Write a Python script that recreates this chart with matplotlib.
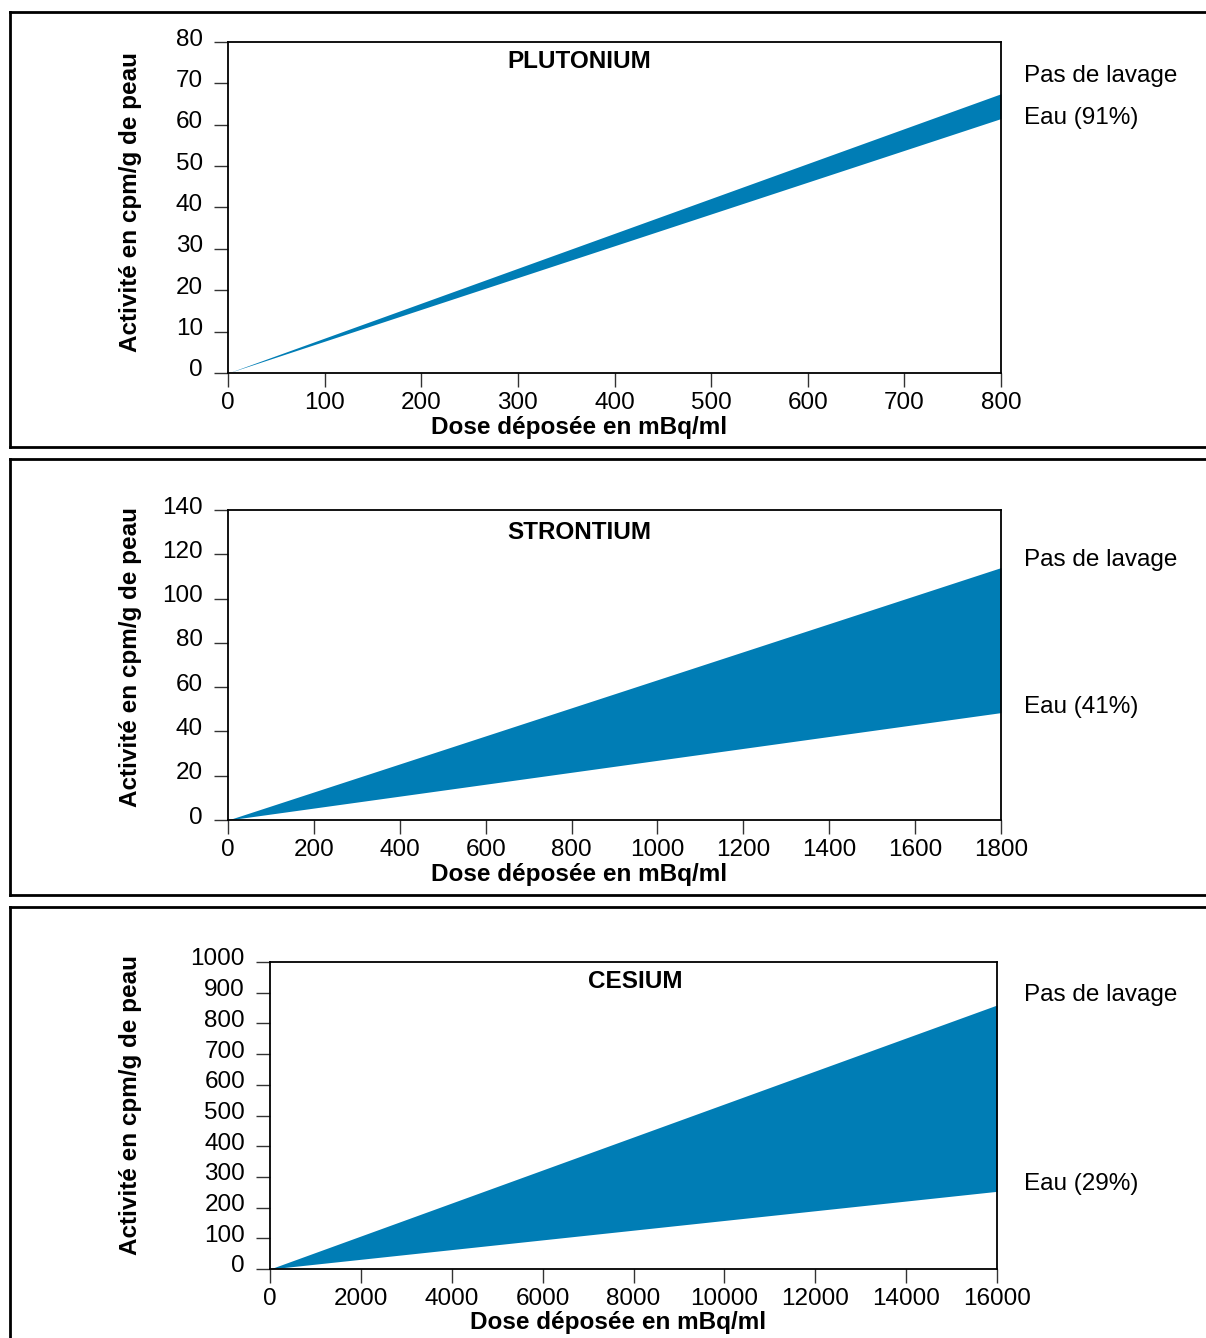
import matplotlib
matplotlib.use("Agg")
import matplotlib.pyplot as plt
from matplotlib.lines import Line2D
from matplotlib.transforms import ScaledTranslation

plt.rcParams['font.family'] = ['Liberation Sans', 'DejaVu Sans']

# Data
titles = ["PLUTONIUM", "STRONTIUM", "CESIUM"]
dose_max = [800, 1800, 16000]
no_wash_end = [67.5, 114.0, 860.0]
water_end = [61.5, 48.5, 253.0]
water_labels = ["Eau (91%)", "Eau (41%)", "Eau (29%)"]
y_max = [80, 140, 1000]
y_step = [10, 20, 100]
x_step = [100, 200, 2000]

W, H = 1206, 1338
fig = plt.figure(figsize=(W / 100, H / 100), dpi=100)

# axes boxes in pixels: left, right, top, bottom
boxes = [(228, 1001, 42, 373), (228, 1001, 510, 820), (270, 997, 962, 1269)]
panels = [(10, 12, 447), (10, 459, 895), (10, 907, 1345)]
title_x = [0.454, 0.454, 0.503]
title_y = [0.940, 0.926, 0.938]
xlab_x = [0.454, 0.454, 0.479]
xlab_y = [-0.166, -0.177, -0.173]
pas_y = [0.897, 0.839, 0.893]
eau_y = [0.770, 0.365, 0.277]
ylab_y = [0.517, 0.526, 0.534]

color = '#007db5'
fs = 17.5

for i in range(3):
    l, r, t, b = boxes[i]
    ax = fig.add_axes([l / W, 1 - b / H, (r - l) / W, (b - t) / H])
    xs = [0, dose_max[i]]
    ax.fill_between(xs, [0, water_end[i]], [0, no_wash_end[i]], color=color, lw=0)
    ax.set_xlim(0, dose_max[i])
    ax.set_ylim(0, y_max[i])
    ax.set_xticks(range(0, dose_max[i] + 1, x_step[i]))
    ax.set_yticks(range(0, y_max[i] + 1, y_step[i]))
    ax.tick_params(direction='out', length=10, width=1.0, labelsize=fs, color='#333333')
    ax.tick_params(axis='x', pad=4)
    ax.tick_params(axis='y', pad=8)
    off = ScaledTranslation(0, 5 / 100, fig.dpi_scale_trans)
    for lab in ax.get_yticklabels():
        lab.set_transform(lab.get_transform() + off)
    for s in ax.spines.values():
        s.set_linewidth(1.3)
    ax.text(title_x[i], title_y[i], titles[i], transform=ax.transAxes, ha='center', va='center',
            fontsize=fs, fontweight='bold')
    ax.text(xlab_x[i], xlab_y[i], "Dose déposée en mBq/ml", transform=ax.transAxes,
            ha='center', va='center', fontsize=fs, fontweight='bold')
    xr = (1024 - l) / (r - l)
    ax.text(xr, pas_y[i], "Pas de lavage", transform=ax.transAxes, ha='left', va='center', fontsize=fs)
    ax.text(xr, eau_y[i], water_labels[i], transform=ax.transAxes, ha='left', va='center', fontsize=fs)
    yl_x = (131 - l) / (r - l)
    ax.text(yl_x, ylab_y[i], "Activité en cpm/g de peau", transform=ax.transAxes,
            rotation=90, ha='center', va='center', fontsize=fs, fontweight='bold')

# panel frames
for (px, ptop, pbot) in panels:
    kw = dict(color='black', lw=2.0, transform=fig.transFigure, solid_capstyle='projecting')
    fig.add_artist(Line2D([px / W, px / W], [1 - ptop / H, 1 - pbot / H], **kw))
    fig.add_artist(Line2D([px / W, 1.01], [1 - ptop / H, 1 - ptop / H], **kw))
    fig.add_artist(Line2D([px / W, 1.01], [1 - pbot / H, 1 - pbot / H], **kw))

fig.savefig("out.png", dpi=100)
